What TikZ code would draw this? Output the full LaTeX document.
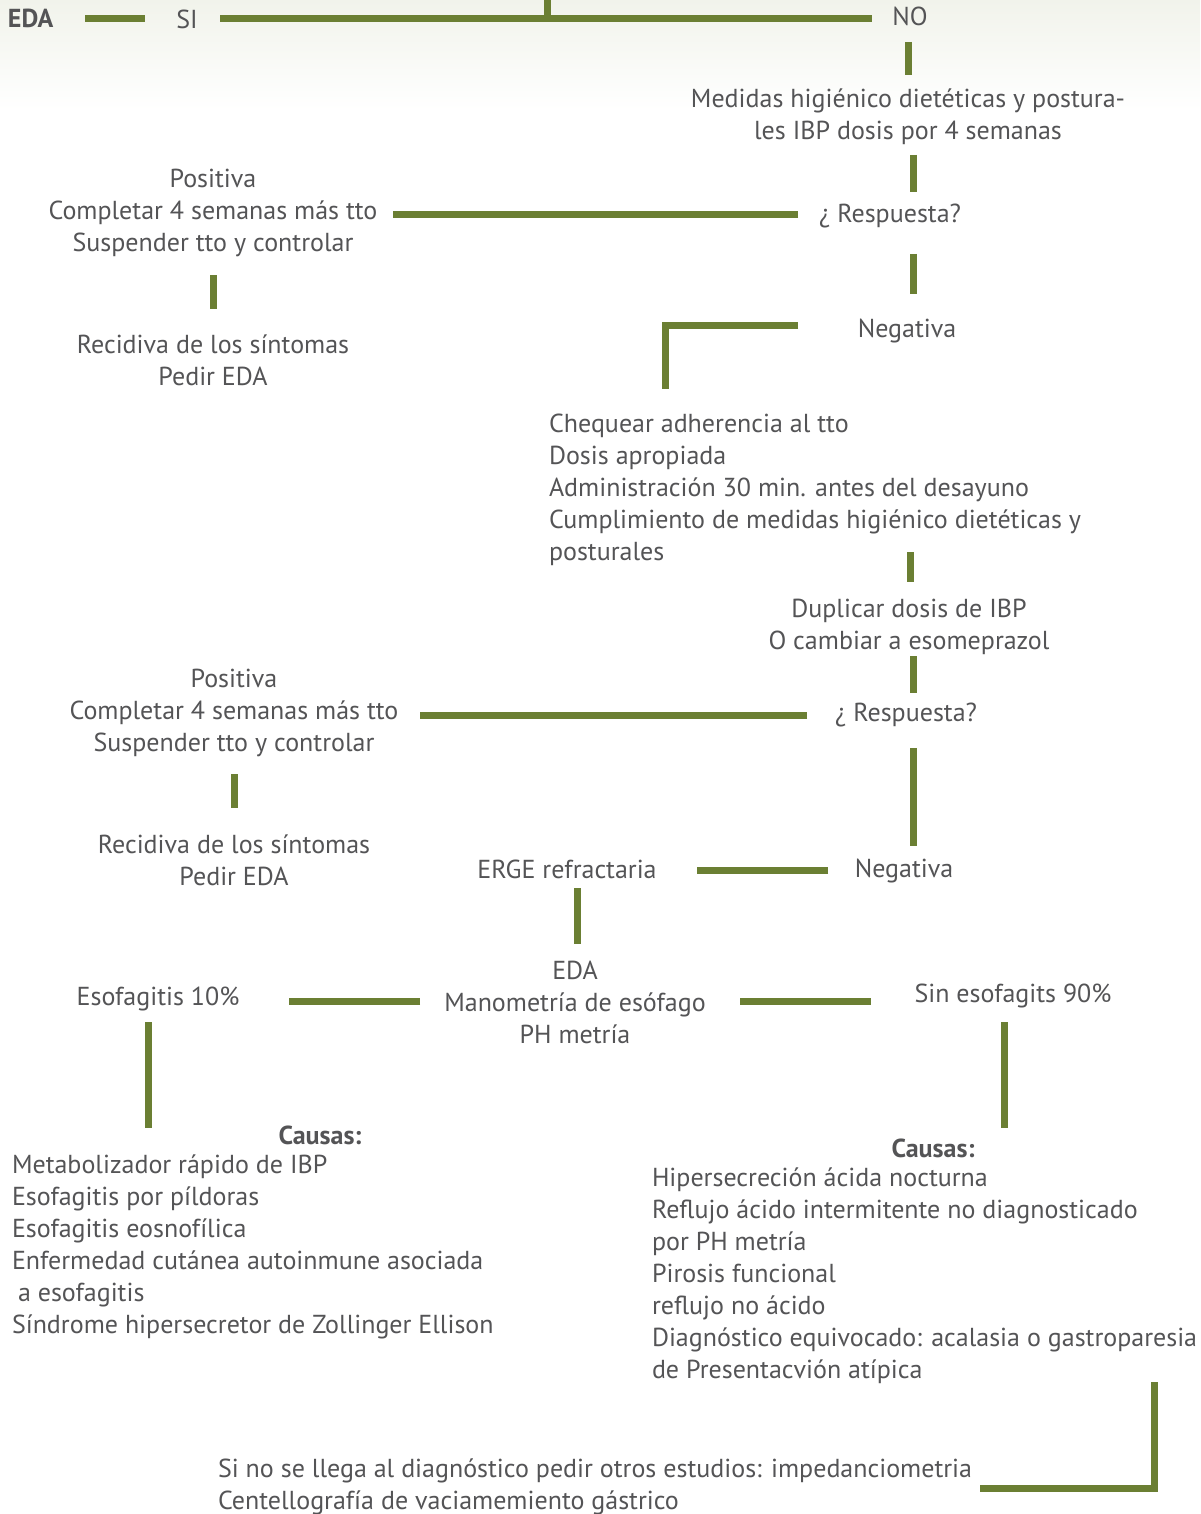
\documentclass[tikz,border=0pt]{standalone}
\usepackage{fontspec}
\setmainfont{PT Sans}
\definecolor{lg}{HTML}{6B7F33}
\definecolor{tx}{HTML}{545456}
\definecolor{bgtop}{HTML}{F1F3EB}
\begin{document}
\begin{tikzpicture}[x=0.5pt,y=-0.5pt,
  every node/.style={inner sep=0pt,outer sep=0pt,text=tx,font=\fontsize{13}{16}\selectfont},
  ctr/.style={align=center},
  lft/.style={align=left,anchor=west},
  bld/.style={font=\fontsize{13}{16}\selectfont\bfseries},
  ln/.style={draw=lg,line width=3.5pt}]
\useasboundingbox (0,0) rectangle (1200,1514);
\fill[white] (0,0) rectangle (1200,1514);
\shade[top color=bgtop,bottom color=white] (0,0) rectangle (1200,110);

% ---- nodes
\begin{scope}[yshift=-1.5pt]
\node[bld,anchor=west] (eda) at (8,15) {EDA};
\node (si) at (187,16) {SI};
\node (no) at (910,13) {NO};
\node[ctr] (med) at (908,114) {Medidas higiénico dietéticas y postura-\\les IBP dosis por 4 semanas};
\node (r1) at (890,213) {¿ Respuesta?};
\node[ctr] (p1) at (213,210) {Positiva\\Completar 4 semanas más tto\\Suspender tto y controlar};
\node[ctr] (rec1) at (213,357) {Recidiva de los síntomas\\Pedir EDA};
\node (n1) at (907,328) {Negativa};
\node[lft] (chq) at (549,487) {Chequear adherencia al tto\\Dosis apropiada\\Administración 30 min. antes del desayuno\\Cumplimiento de medidas higiénico dietéticas y\\posturales};
\node[ctr] (dup) at (909,624) {Duplicar dosis de IBP\\O cambiar a esomeprazol};
\node (r2) at (906,712) {¿ Respuesta?};
\node[ctr] (p2) at (234,710) {Positiva\\Completar 4 semanas más tto\\Suspender tto y controlar};
\node[ctr] (rec2) at (234,857) {Recidiva de los síntomas\\Pedir EDA};
\node (erge) at (567,866) {ERGE refractaria};
\node (n2) at (904,868) {Negativa};
\node[ctr] (eda2) at (575,999) {EDA\\Manometría de esófago\\PH metría};
\node (esof) at (158,996) {Esofagitis 10\%};
\node (sinesof) at (1013,993) {Sin esofagits 90\%};
\node[bld] (caus1) at (320,1132) {Causas:};
\node[lft] (list1) at (12,1244) {Metabolizador rápido de IBP\\Esofagitis por píldoras\\Esofagitis eosnofílica\\Enfermedad cutánea autoinmune asociada\\\hspace*{3pt}a esofagitis\\Síndrome hipersecretor de Zollinger Ellison};
\node[bld] (caus2) at (933,1145) {Causas:};
\node[lft] (list2) at (652,1273) {Hipersecreción ácida nocturna\\Reflujo ácido intermitente no diagnosticado\\por PH metría\\Pirosis funcional\\reflujo no ácido\\Diagnóstico equivocado: acalasia o gastroparesia\\de Presentacvión atípica};
\node[lft] (otros) at (218,1484) {Si no se llega al diagnóstico pedir otros estudios: impedanciometria\\Centellografía de vaciamemiento gástrico};
\end{scope}

% ---- connector end points
\coordinate (a1) at (85,19);   \coordinate (a2) at (145,19);
\coordinate (b1) at (220,19);  \coordinate (b2) at (872,19);
\coordinate (b3) at (547,0);   \coordinate (b4) at (547,19);
\coordinate (c1) at (908,42);  \coordinate (c2) at (908,75);
\coordinate (d1) at (913,155); \coordinate (d2) at (913,192);
\coordinate (e1) at (798,215); \coordinate (e2) at (393,215);
\coordinate (f1) at (913,254); \coordinate (f2) at (913,294);
\coordinate (g1) at (213,275); \coordinate (g2) at (213,309);
\coordinate (h1) at (798,325); \coordinate (h2) at (665,325); \coordinate (h3) at (665,389);
\coordinate (i1) at (910,552); \coordinate (i2) at (910,582);
\coordinate (j1) at (913,656); \coordinate (j2) at (913,693);
\coordinate (k1) at (807,715); \coordinate (k2) at (420,715);
\coordinate (l1) at (913,748); \coordinate (l2) at (913,846);
\coordinate (m1) at (234,774); \coordinate (m2) at (234,808);
\coordinate (o1) at (828,870); \coordinate (o2) at (697,870);
\coordinate (q1) at (577,888); \coordinate (q2) at (577,944);
\coordinate (s1) at (420,1001); \coordinate (s2) at (289,1001);
\coordinate (t1) at (740,1001); \coordinate (t2) at (871,1001);
\coordinate (u1) at (148,1022); \coordinate (u2) at (148,1128);
\coordinate (v1) at (1004,1022); \coordinate (v2) at (1004,1128);
\coordinate (w1) at (1154,1382); \coordinate (w2) at (1154,1488); \coordinate (w3) at (980,1488);

% ---- connectors
\draw[ln] (a1) -- (a2);
\draw[ln] (b1) -- (b2);
\draw[ln] (b3) -- (b4);
\draw[ln] (c1) -- (c2);
\draw[ln] (d1) -- (d2);
\draw[ln] (e1) -- (e2);
\draw[ln] (f1) -- (f2);
\draw[ln] (g1) -- (g2);
\draw[ln] (h1) -- (h2) -- (h3);
\draw[ln] (i1) -- (i2);
\draw[ln] (j1) -- (j2);
\draw[ln] (k1) -- (k2);
\draw[ln] (l1) -- (l2);
\draw[ln] (m1) -- (m2);
\draw[ln] (o1) -- (o2);
\draw[ln] (q1) -- (q2);
\draw[ln] (s1) -- (s2);
\draw[ln] (t1) -- (t2);
\draw[ln] (u1) -- (u2);
\draw[ln] (v1) -- (v2);
\draw[ln] (w1) -- (w2) -- (w3);
\end{tikzpicture}
\end{document}
